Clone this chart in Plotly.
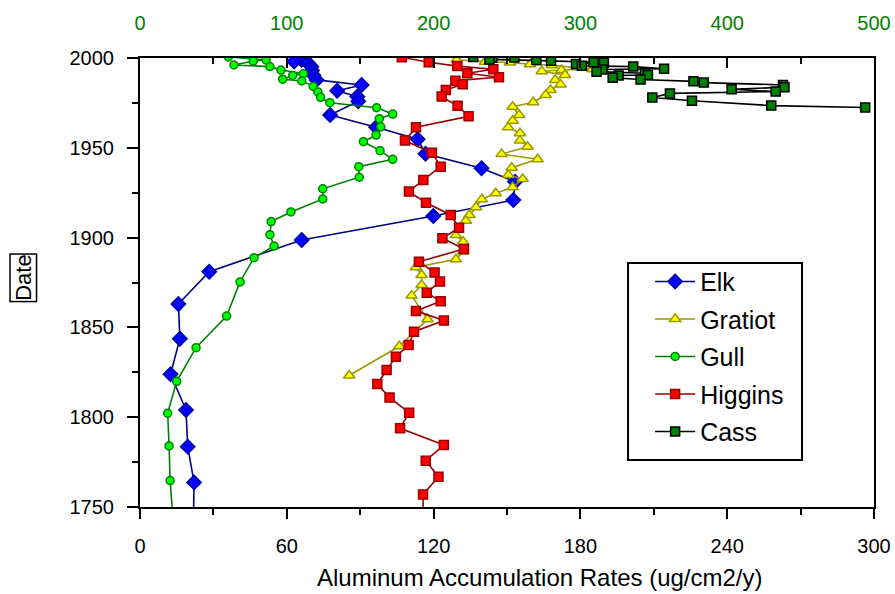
import plotly.graph_objects as go

# ---------------- data ----------------
elk_year = [1999.0, 1998.0, 1997.0, 1995.2, 1993.0, 1990.5, 1987.8, 1985.0, 1981.8, 1978.5,
            1975.9, 1968.3, 1961.4, 1954.8, 1946.7, 1938.6, 1931.1, 1920.9, 1912.0, 1898.7,
            1881.0, 1863.0, 1843.7, 1823.9, 1804.0, 1783.6, 1763.7, 1740.0]
elk_val = [66.0, 63.0, 68.8, 70.0, 70.3, 70.8, 72.2, 90.6, 80.6, 88.8,
           89.2, 77.7, 96.5, 113.5, 116.7, 139.6, 153.3, 152.6, 119.9, 66.1,
           28.3, 15.7, 16.3, 12.5, 18.8, 19.5, 22.1, 21.8]

gratiot_year = [1999.0, 1997.9, 1997.5, 1996.5, 1996.0, 1993.8, 1993.3, 1992.6, 1990.5, 1987.8,
                1985.3, 1982.2, 1979.4, 1975.4, 1972.9, 1968.3, 1965.1, 1961.4, 1958.1, 1954.0,
                1950.6, 1946.5, 1943.6, 1938.9, 1934.9, 1932.6, 1928.0, 1924.7, 1921.3, 1916.9,
                1912.6, 1909.4, 1901.4, 1897.7, 1892.2, 1887.9, 1883.5, 1879.2, 1873.6, 1867.7,
                1854.5, 1839.5, 1823.2]
gratiot_val = [129.4, 141.0, 151.2, 159.4, 168.3, 185.0, 172.3, 164.2, 173.7, 169.7,
               171.9, 167.8, 165.8, 160.7, 152.3, 155.0, 152.3, 150.5, 155.3, 155.3,
               158.4, 147.8, 162.5, 151.9, 150.5, 156.4, 152.3, 145.4, 139.7, 137.3,
               134.6, 133.2, 129.1, 132.1, 132.1, 129.1, 112.8, 115.1, 115.1, 111.0,
               117.5, 106.0, 85.5]

gull_year = [2000.6, 1998.9, 1998.3, 1996.1, 1995.2, 1993.3, 1991.3, 1990.3, 1988.2, 1987.2,
             1984.2, 1981.1, 1978.1, 1975.1, 1972.3, 1968.8, 1966.2, 1961.7, 1957.1, 1953.4,
             1948.4, 1943.6, 1939.5, 1933.6, 1927.2, 1921.5, 1914.3, 1908.9, 1901.6, 1895.3,
             1888.8, 1875.3, 1856.3, 1838.7, 1820.0, 1802.2, 1784.0, 1764.7, 1740.0]
gull_val = [36.1, 51.5, 46.3, 38.4, 53.1, 57.6, 66.8, 62.4, 58.3, 66.1,
            70.8, 72.7, 73.8, 77.6, 96.7, 103.3, 97.8, 98.4, 96.5, 91.3,
            98.1, 103.3, 89.4, 89.6, 74.7, 74.7, 61.7, 53.6, 53.1, 54.8,
            46.6, 40.9, 35.4, 22.9, 15.0, 11.3, 11.9, 12.3, 13.7]

higgins_year = [2000.4, 1997.6, 1995.5, 1993.7, 1991.5, 1989.3, 1987.4, 1985.4, 1982.2, 1978.5,
                1973.4, 1967.5, 1961.4, 1954.0, 1947.3, 1939.5, 1932.1, 1925.6, 1919.4, 1912.6,
                1905.5, 1899.6, 1893.6, 1886.6, 1880.5, 1875.5, 1869.3, 1864.5, 1859.2, 1853.8,
                1847.6, 1840.2, 1833.7, 1826.3, 1818.5, 1810.9, 1802.5, 1793.8, 1784.5, 1775.8,
                1766.9, 1757.0, 1740.0]
higgins_val = [107.0, 118.0, 129.7, 144.4, 133.8, 146.7, 128.9, 131.9, 125.0, 123.3,
               129.8, 134.3, 112.8, 108.3, 119.3, 122.9, 115.8, 109.9, 116.9, 127.0,
               130.4, 123.6, 132.4, 114.0, 120.4, 122.6, 117.2, 122.9, 112.8, 124.2,
               112.0, 109.8, 104.6, 100.8, 97.0, 102.0, 110.0, 106.3, 124.2, 116.8,
               122.0, 115.7, 115.7]

cass_year = [2000.5, 2000.3, 2000.1, 1999.2, 1998.9, 1998.4, 1997.6, 1997.3, 1996.7, 1995.7,
             1995.2, 1994.0, 1993.6, 1992.4, 1991.5, 1990.5, 1990.3, 1989.0, 1988.0, 1987.0,
             1986.3, 1985.0, 1983.7, 1982.6, 1981.3, 1980.3, 1978.0, 1976.2, 1973.5, 1972.4]
cass_val = [227, 255, 240, 238, 270, 280, 309, 316, 297, 301,
            336, 357, 315, 311, 344, 346, 326, 322, 341, 377,
            384, 438, 439, 403, 433, 361, 349, 376, 430, 494]

bottom_ticks = [0, 60, 120, 180, 240, 300]
top_ticks = [0, 100, 200, 300, 400, 500]
year_ticks = [1750, 1800, 1850, 1900, 1950, 2000]

FONT = "Arial, Liberation Sans, sans-serif"

fig = go.Figure()

def add(name, x, y, symbol, fill, edge, line, size, xaxis="x"):
    fig.add_trace(go.Scatter(
        x=x, y=y, name=name, mode="lines+markers", xaxis=xaxis, yaxis="y",
        legendgroup=name,
        line=dict(color=line, width=1.6),
        marker=dict(symbol=symbol, size=size, color=fill,
                    line=dict(color=edge, width=1.5)),
    ))

add("Elk", elk_val, elk_year, "diamond", "#0000FF", "#0000AA", "#000080", 11)
add("Gratiot", gratiot_val, gratiot_year, "triangle-up", "#FFFF00", "#999900", "#999900", 10)
add("Gull", gull_val, gull_year, "circle", "#00FF00", "#008000", "#008000", 8)
add("Higgins", higgins_val, higgins_year, "square", "#FF0000", "#990000", "#990000", 9)
add("Cass", cass_val, cass_year, "square", "#008000", "#000000", "#000000", 9, xaxis="x2")

fig.update_layout(
    width=895, height=594,
    margin=dict(l=140, r=21, t=58, b=87, autoexpand=False),
    paper_bgcolor="white", plot_bgcolor="white",
    font=dict(family=FONT, size=20, color="black"),
    showlegend=True,
    legend=dict(
        x=0.695, y=0.553, xanchor="left", yanchor="top",
        bgcolor="rgba(0,0,0,0)", borderwidth=0,
        font=dict(family=FONT, size=25, color="black"),
        tracegroupgap=2, itemwidth=40,
    ),
    xaxis=dict(
        range=[0, 300], tickvals=bottom_ticks, showgrid=False, zeroline=False,
        automargin=False,
        showline=True, linecolor="black", linewidth=2,
        ticks="outside", ticklen=10, tickwidth=2, tickcolor="black",
        minor=dict(dtick=30, tick0=0, ticks="outside", ticklen=6, tickwidth=2, tickcolor="black", showgrid=False),
        tickfont=dict(size=20, color="black"), ticklabelstandoff=10,
    ),
    xaxis2=dict(
        range=[0, 500], tickvals=top_ticks, overlaying="x", side="top",
        showgrid=False, zeroline=False, automargin=False,
        showline=True, linecolor="black", linewidth=2,
        ticks="inside", ticklen=10, tickwidth=2, tickcolor="black",
        minor=dict(dtick=50, tick0=0, ticks="inside", ticklen=6, tickwidth=2, tickcolor="black", showgrid=False),
        tickfont=dict(size=20, color="#008000"), ticklabelstandoff=18,
    ),
    yaxis=dict(
        range=[1750, 2000], tickvals=year_ticks, showgrid=False, zeroline=False,
        automargin=False,
        showline=True, linecolor="black", linewidth=2, mirror=True,
        ticks="outside", ticklen=11, tickwidth=2, tickcolor="black",
        minor=dict(dtick=25, tick0=1750, ticks="outside", ticklen=6, tickwidth=2, tickcolor="black", showgrid=False),
        tickfont=dict(size=20, color="black"), ticklabelstandoff=9,
    ),
    shapes=[dict(
        type="rect", xref="paper", yref="paper",
        x0=0.6649, x1=0.9019, y0=0.1047, y1=0.5434,
        line=dict(color="black", width=2), fillcolor="white", layer="above",
    )],
    annotations=[
        dict(
            text="Date", textangle=-90, xref="paper", yref="paper",
            x=-0.159, y=0.51, xanchor="center", yanchor="middle", showarrow=False,
            font=dict(family=FONT, size=22, color="black"),
            bordercolor="black", borderwidth=1.5, borderpad=0,
        ),
        dict(
            text="Aluminum Accumulation Rates (ug/cm2/y)", xref="paper", yref="paper",
            x=0.545, y=-0.156, xanchor="center", yanchor="middle", showarrow=False,
            font=dict(family=FONT, size=24, color="black"),
        ),
    ],
)

fig.write_html("out.html", config={"displayModeBar": False},
               post_script="document.body.style.margin='0';")
